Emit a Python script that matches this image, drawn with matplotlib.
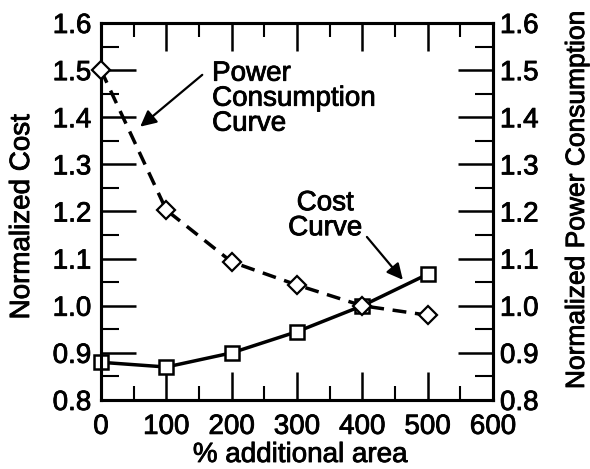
import matplotlib
matplotlib.use("Agg")
import matplotlib.pyplot as plt
import matplotlib.patheffects as pe
from matplotlib.ticker import MultipleLocator, FormatStrFormatter

area = [0, 100, 200, 300, 400, 500]
cost = [0.88, 0.87, 0.90, 0.945, 1.0, 1.067]
power = [1.5, 1.203, 1.093, 1.044, 1.0, 0.98]

plt.rcParams['font.family'] = ['Liberation Sans', 'DejaVu Sans']
FS = 20
plt.rcParams['font.size'] = FS
thick = [pe.withStroke(linewidth=0.6, foreground='black')]

W, H = 590, 469
fig = plt.figure(figsize=(W/100, H/100), dpi=100)
ax = fig.add_axes([101/W, 1-400/H, (493-101)/W, (400-23)/H])
ax2 = ax.twinx()

for a in (ax, ax2):
    a.set_ylim(0.8, 1.6)
    a.yaxis.set_major_locator(MultipleLocator(0.1))
    a.yaxis.set_minor_locator(MultipleLocator(0.05))
    a.yaxis.set_major_formatter(FormatStrFormatter('%.1f'))
    for s in a.spines.values():
        s.set_linewidth(2.2)
ax.set_xlim(0, 600)
ax.xaxis.set_major_locator(MultipleLocator(100))
ax.xaxis.set_minor_locator(MultipleLocator(50))

ax.tick_params(axis='y', which='major', direction='in', length=25, width=1.8, left=True, right=False, pad=7)
ax.tick_params(axis='y', which='minor', direction='in', length=13, width=1.5)
ax.tick_params(axis='x', which='major', direction='in', length=20, width=1.8, top=True, bottom=True, pad=10)
ax.tick_params(axis='x', which='minor', direction='in', length=10, width=1.5, top=True, bottom=True)
ax2.tick_params(axis='y', which='major', direction='in', length=25, width=1.8, pad=5)
ax2.tick_params(axis='y', which='minor', direction='in', length=13, width=1.5)

for lab in ax.get_xticklabels() + ax.get_yticklabels() + ax2.get_yticklabels():
    lab.set_path_effects(thick)

ax.plot(area, cost, '-', color='black', lw=2.5, marker='s', markersize=10,
        markerfacecolor='white', markeredgecolor='black', markeredgewidth=1.8, clip_on=False, zorder=5)
ax2.plot(area, power, color='black', lw=2.5, linestyle=(0, (4, 2.5)), marker='D', markersize=9,
         markerfacecolor='white', markeredgecolor='black', markeredgewidth=1.6, clip_on=False, zorder=5)

fig.text(22/W, 1-217/H, 'Normalized Cost', rotation=90, ha='center', va='center', fontsize=FS, path_effects=thick)
fig.text(577/W, 1-200/H, 'Normalized Power Consumption', rotation=90, ha='center', va='center', fontsize=19, path_effects=thick)
fig.text(300/W, 1-455/H, '% additional area', ha='center', va='center', fontsize=FS, path_effects=thick)

ax.text(170, 1.52, 'Power\nConsumption\nCurve', fontsize=FS, ha='left', va='top', linespacing=0.95, path_effects=thick)
ax.annotate('', xy=(60, 1.38), xytext=(155, 1.49),
            arrowprops=dict(arrowstyle='-|>', color='black', lw=1.6, mutation_scale=24, shrinkA=0, shrinkB=0))
ax.text(343, 1.137, 'Cost\nCurve', fontsize=FS, ha='center', va='bottom', linespacing=0.95,
        multialignment='center', path_effects=thick)
ax.annotate('', xy=(462, 1.055), xytext=(407, 1.146),
            arrowprops=dict(arrowstyle='-|>', color='black', lw=1.6, mutation_scale=24, shrinkA=0, shrinkB=0))

fig.savefig('out.png', dpi=100)
